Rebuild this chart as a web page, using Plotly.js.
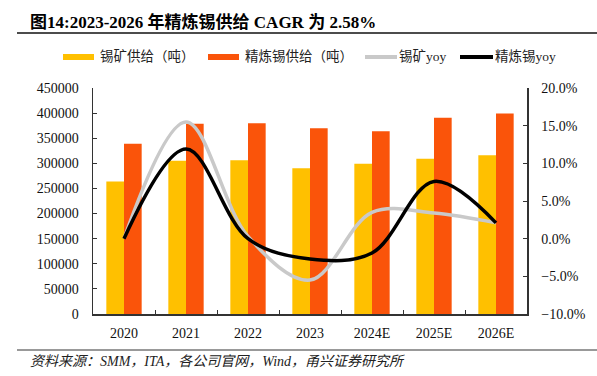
<!DOCTYPE html>
<html>
<head>
<meta charset="utf-8">
<script src="https://cdn.plot.ly/plotly-3.0.1.min.js"></script>
<style>html,body{margin:0;padding:0;background:#fff;}#chart{width:597px;height:376px;}</style>
</head>
<body>
<div id="chart"></div>
<script>
// ---- data ----
const categories = ['2020', '2021', '2022', '2023', '2024E', '2025E', '2026E'];
const oreSupply = [264000, 305000, 306000, 290000, 299000, 309000, 316000];      // 锡矿供给（吨）
const refinedSupply = [339000, 379000, 380000, 370000, 364000, 391000, 399000];  // 精炼锡供给（吨）
const oreYoy = [0.0, 15.5, 0.3, -5.5, 3.5, 3.4, 2.1];      // 锡矿yoy (%)
const refinedYoy = [0.0, 11.9, 0.0, -2.7, -1.9, 7.6, 2.1]; // 精炼锡yoy (%)
const seriesNames = ['锡矿供给（吨）', '精炼锡供给（吨）', '锡矿yoy', '精炼锡yoy'];
const titleText = '<b>图14:2023-2026 年精炼锡供给 CAGR 为 2.58%</b>';
const sourceText = '<i>资料来源：SMM，ITA，各公司官网，Wind，甬兴证券研究所</i>';

// ---- layout helpers ----
const W = 597, H = 376;
const M = {l: 93, r: 70, t: 88, b: 62};
const pw = W - M.l - M.r, ph = H - M.t - M.b;
const px = x => (x - M.l) / pw;
const py = y => (H - M.b - y) / ph;

const FONT = 'Liberation Serif, "Noto Sans CJK SC", serif';
const colors = ['#FFC000', '#FA540A', '#C9C9C9', '#000000'];

const traces = [
  {type: 'bar', x: categories, y: oreSupply, name: seriesNames[0], marker: {color: colors[0]}, yaxis: 'y', hoverinfo: 'skip', showlegend: false},
  {type: 'bar', x: categories, y: refinedSupply, name: seriesNames[1], marker: {color: colors[1]}, yaxis: 'y', hoverinfo: 'skip', showlegend: false},
  {type: 'scatter', mode: 'lines', x: categories, y: oreYoy, name: seriesNames[2], line: {color: colors[2], width: 3.5, shape: 'spline', smoothing: 1}, yaxis: 'y2', hoverinfo: 'skip', showlegend: false},
  {type: 'scatter', mode: 'lines', x: categories, y: refinedYoy, name: seriesNames[3], line: {color: colors[3], width: 3.5, shape: 'spline', smoothing: 1}, yaxis: 'y2', hoverinfo: 'skip', showlegend: false}
];

// custom legend
const legendItems = [
  {x0: 63, x1: 94, tx: 98, kind: 'rect'},
  {x0: 208, x1: 239, tx: 243, kind: 'rect'},
  {x0: 365, x1: 397, tx: 397, kind: 'line'},
  {x0: 460, x1: 493, tx: 493, kind: 'line'}
];
const legY = 57;
const shapes = [];
const annotations = [];
legendItems.forEach((it, i) => {
  if (it.kind === 'rect') {
    shapes.push({type: 'rect', xref: 'paper', yref: 'paper', x0: px(it.x0), x1: px(it.x1), y0: py(legY + 3), y1: py(legY - 3), fillcolor: colors[i], line: {width: 0}});
  } else {
    shapes.push({type: 'line', xref: 'paper', yref: 'paper', x0: px(it.x0), x1: px(it.x1), y0: py(legY), y1: py(legY), line: {color: colors[i], width: 4}});
  }
  annotations.push({xref: 'paper', yref: 'paper', x: px(it.tx), y: py(legY), xanchor: 'left', yanchor: 'middle', showarrow: false, text: seriesNames[i], font: {family: FONT, size: 13.5, color: '#222'}});
});

// title and rules
annotations.push({xref: 'paper', yref: 'paper', x: px(28), y: py(22), xanchor: 'left', yanchor: 'middle', showarrow: false, text: titleText, font: {family: FONT, size: 17, color: '#000'}});
shapes.push({type: 'line', xref: 'paper', yref: 'paper', x0: px(17), x1: px(597), y0: py(33), y1: py(33), line: {color: '#111', width: 1.5}});
shapes.push({type: 'line', xref: 'paper', yref: 'paper', x0: px(17), x1: px(597), y0: py(350), y1: py(350), line: {color: '#777', width: 1.5}});
annotations.push({xref: 'paper', yref: 'paper', x: px(28), y: py(361), xanchor: 'left', yanchor: 'middle', showarrow: false, text: sourceText, font: {family: FONT, size: 14, color: '#222'}});

const layout = {
  width: W, height: H,
  margin: M,
  paper_bgcolor: '#fff', plot_bgcolor: '#fff',
  font: {family: FONT, size: 14, color: '#111'},
  showlegend: false,
  barmode: 'group', bargap: 0.43, bargroupgap: 0,
  xaxis: {type: 'category', showline: true, linecolor: '#333', linewidth: 1.5, ticks: 'inside', tickson: 'boundaries', ticklen: 4, tickcolor: '#333', showgrid: false, zeroline: false, tickfont: {family: FONT, size: 14, color: '#111'}, ticklabelstandoff: 6},
  yaxis: {range: [0, 450000], dtick: 50000, showline: true, linecolor: '#333', linewidth: 1.5, ticks: 'inside', ticklen: 4, tickcolor: '#333', showgrid: false, zeroline: false, tickformat: 'd', tickfont: {family: FONT, size: 14, color: '#111'}, ticklabelstandoff: 10},
  yaxis2: {range: [-10, 20], dtick: 5, overlaying: 'y', side: 'right', showline: true, linecolor: '#333', linewidth: 1.5, ticks: 'inside', ticklen: 4, tickcolor: '#333', showgrid: false, zeroline: false, tickformat: '.1f', ticksuffix: '%', tickfont: {family: FONT, size: 14, color: '#111'}, ticklabelstandoff: 10},
  shapes: shapes,
  annotations: annotations
};

Plotly.newPlot('chart', traces, layout, {staticPlot: true, displayModeBar: false});
</script>
</body>
</html>
